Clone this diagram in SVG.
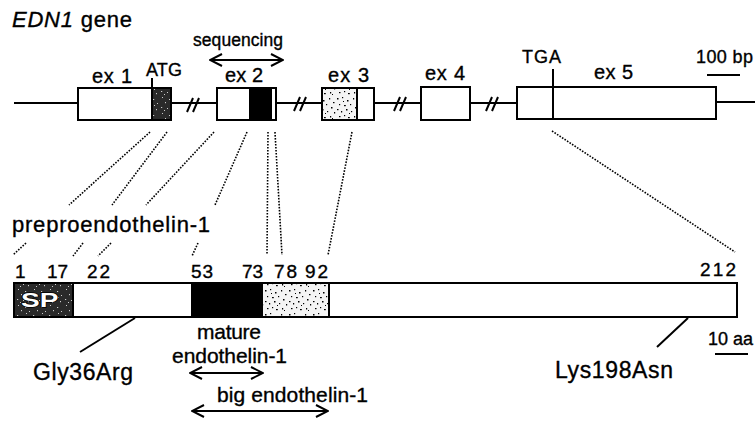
<svg xmlns="http://www.w3.org/2000/svg" width="755" height="421" viewBox="0 0 755 421">
<style>
text{font-family:"Liberation Sans",Arial,Helvetica,sans-serif;fill:#000;stroke:#000;stroke-width:0.35}
.box{fill:#fff;stroke:#000;stroke-width:2}
.ln{stroke:#000;stroke-width:2;fill:none}
.dot{stroke:#000;stroke-width:1.6;stroke-dasharray:1.6 1.4;fill:none}
.arr{stroke:#000;stroke-width:2;fill:none;marker-start:url(#ah);marker-end:url(#ah)}
.s17{font-size:17px}
.s18{font-size:18px}
.s19{font-size:19px}
.s20{font-size:20px}
.s21{font-size:21px}
.s23{font-size:23px}
</style>
<defs>
<marker id="ah" viewBox="0 0 14 14" refX="13" refY="7" markerWidth="14" markerHeight="14" markerUnits="userSpaceOnUse" orient="auto-start-reverse">
<path d="M1,1 L13,7 L1,13" fill="none" stroke="#000" stroke-width="2"/>
</marker>
<pattern id="light" width="24" height="24" patternUnits="userSpaceOnUse">
<rect width="24" height="24" fill="#f4f4f4"/>
<g fill="#000">
<rect x="1" y="2" width="1.5" height="1.5"/><rect x="6" y="1" width="1.2" height="1.2"/><rect x="11" y="4" width="1.5" height="1.5"/>
<rect x="17" y="2" width="1.2" height="1.5"/><rect x="21" y="6" width="1.5" height="1.2"/><rect x="3" y="8" width="1.2" height="1.2"/>
<rect x="8" y="9" width="1.8" height="1.2"/><rect x="14" y="8" width="1.2" height="1.2"/><rect x="19" y="11" width="1.5" height="1.5"/>
<rect x="1" y="13" width="1.5" height="1.2"/><rect x="5" y="15" width="1.2" height="1.5"/><rect x="10" y="13" width="1.5" height="1.5"/>
<rect x="15" y="15" width="1.2" height="1.2"/><rect x="22" y="16" width="1.2" height="1.5"/><rect x="3" y="20" width="1.5" height="1.2"/>
<rect x="8" y="19" width="1.2" height="1.2"/><rect x="12" y="21" width="1.8" height="1.2"/><rect x="18" y="20" width="1.2" height="1.5"/>
<rect x="13" y="17" width="1" height="1"/><rect x="7" y="5" width="1" height="1"/><rect x="20" y="22" width="1" height="1"/>
</g>
</pattern>
<pattern id="dark" width="16" height="16" patternUnits="userSpaceOnUse">
<rect width="16" height="16" fill="#2a2a2a"/>
<g fill="#ccc">
<rect x="2" y="1" width="1" height="1"/><rect x="9" y="3" width="1.2" height="1"/><rect x="13" y="7" width="1" height="1"/>
<rect x="5" y="6" width="1" height="1.2"/><rect x="1" y="11" width="1.2" height="1"/><rect x="7" y="12" width="1" height="1"/>
<rect x="12" y="13" width="1" height="1.2"/><rect x="4" y="14" width="1" height="1"/><rect x="10" y="9" width="1" height="1"/>
</g>
</pattern>
</defs>

<g id="title"><text x="12" y="27" font-size="22" textLength="120"><tspan font-style="italic">EDN1</tspan> gene</text></g>

<g id="connectors">
<line class="ln" x1="14" y1="103" x2="78" y2="103"/>
<line class="ln" x1="171" y1="103" x2="217" y2="103"/>
<line class="ln" x1="276" y1="103" x2="322" y2="103"/>
<line class="ln" x1="374" y1="103" x2="421" y2="103"/>
<line class="ln" x1="470" y1="103" x2="517" y2="103"/>
<line class="ln" x1="716" y1="102" x2="755" y2="102"/>
<path class="ln" d="M187,112 L193,98 M193,112 L199,98"/>
<path class="ln" d="M294,111 L300,97 M300,111 L306,97"/>
<path class="ln" d="M394,111 L400,97 M400,111 L406,97"/>
<path class="ln" d="M486,111 L492,97 M492,111 L498,97"/>
<line class="dot" x1="150" y1="132" x2="69" y2="205"/><line class="dot" x1="26" y1="243" x2="13" y2="255"/>
<line class="dot" x1="167" y1="132" x2="112" y2="205"/><line class="dot" x1="83" y1="243" x2="73" y2="256"/>
<line class="dot" x1="214" y1="132" x2="146" y2="205"/><line class="dot" x1="111" y1="243" x2="98" y2="256"/>
<line class="dot" x1="247" y1="132" x2="215" y2="205"/><line class="dot" x1="198" y1="243" x2="192" y2="256"/>
<line class="dot" x1="268" y1="132" x2="267" y2="255"/>
<line class="dot" x1="275" y1="132" x2="282" y2="255"/>
<line class="dot" x1="352" y1="132" x2="328" y2="255"/>
<line class="dot" x1="552" y1="131" x2="735" y2="252"/>
<line class="ln" x1="135" y1="318" x2="80" y2="352" stroke-width="1.8"/>
<line class="ln" x1="688" y1="318" x2="657" y2="347" stroke-width="1.8"/>
<line class="ln" x1="707" y1="75" x2="740" y2="75"/>
<line class="ln" x1="715" y1="354" x2="748" y2="354"/>
<line class="arr" x1="210" y1="60" x2="283" y2="60"/>
<line class="arr" x1="190" y1="373" x2="263" y2="373"/>
<line class="arr" x1="192" y1="411" x2="328" y2="411"/>
</g>

<g id="ex1">
<rect class="box" x="78" y="88" width="93" height="32"/>
<rect x="152" y="89" width="18" height="30" fill="url(#dark)"/>
<line class="ln" x1="152" y1="78" x2="152" y2="120"/>
<text class="s20" x="92" y="83" textLength="40">ex 1</text>
<text class="s18" x="146" y="76" textLength="36">ATG</text>
</g>
<g id="ex2">
<rect class="box" x="217" y="88" width="59" height="32"/>
<rect x="249" y="89" width="23" height="30" fill="#000"/>
<text class="s20" x="225" y="82" textLength="38">ex 2</text>
</g>
<g id="sequencing">
<text x="193" y="46" font-size="17.5" textLength="90">sequencing</text>
</g>
<g id="ex3">
<rect class="box" x="322" y="88" width="52" height="32"/>
<rect x="323" y="89" width="34" height="30" fill="url(#light)"/>
<line class="ln" x1="357" y1="88" x2="357" y2="120"/>
<text class="s20" x="328" y="82" textLength="41">ex 3</text>
</g>
<g id="ex4">
<rect class="box" x="421" y="87" width="49" height="33"/>
<text class="s20" x="425" y="80" textLength="40">ex 4</text>
</g>
<g id="ex5">
<rect class="box" x="517" y="87" width="199" height="32"/>
<line class="ln" x1="553" y1="69" x2="553" y2="119"/>
<text class="s18" x="522" y="63" textLength="39">TGA</text>
<text class="s20" x="594" y="79" textLength="39">ex 5</text>
</g>
<g id="scale-bp"><text class="s18" x="696" y="63" textLength="57">100 bp</text></g>

<g id="protein">
<text x="12" y="232" font-size="22" textLength="198">preproendothelin-1</text>
<rect class="box" x="14" y="283" width="723" height="34"/>
<rect x="15" y="284" width="58" height="32" fill="url(#dark)"/>
<rect x="191" y="284" width="72" height="32" fill="#000"/>
<rect x="263" y="284" width="66" height="32" fill="url(#light)"/>
<line class="ln" x1="73" y1="283" x2="73" y2="317"/>
<line class="ln" x1="329" y1="283" x2="329" y2="317"/>
<text transform="translate(21,307) scale(1.4,1)" font-size="20" font-weight="bold" style="fill:#fff;stroke:#000;stroke-width:1.4;paint-order:stroke">SP</text>
<g class="s19">
<text x="15" y="278">1</text>
<text x="47" y="278" textLength="21">17</text>
<text x="87" y="278" textLength="23">22</text>
<text x="191" y="278" textLength="22">53</text>
<text x="242" y="278" textLength="21">73</text>
<text x="274" y="278" textLength="23">78</text>
<text x="305" y="278" textLength="23">92</text>
<text x="700" y="276" textLength="36">212</text>
</g>
</g>

<g id="labels">
<text class="s21" x="197" y="339" textLength="64">mature</text>
<text class="s21" x="172" y="363" textLength="115">endothelin-1</text>
<text class="s21" x="217" y="402" textLength="151">big endothelin-1</text>
<text class="s23" x="33" y="380" textLength="100">Gly36Arg</text>
<text class="s23" x="555" y="378" textLength="118">Lys198Asn</text>
<text class="s18" x="708" y="345" textLength="45">10 aa</text>
</g>
</svg>
